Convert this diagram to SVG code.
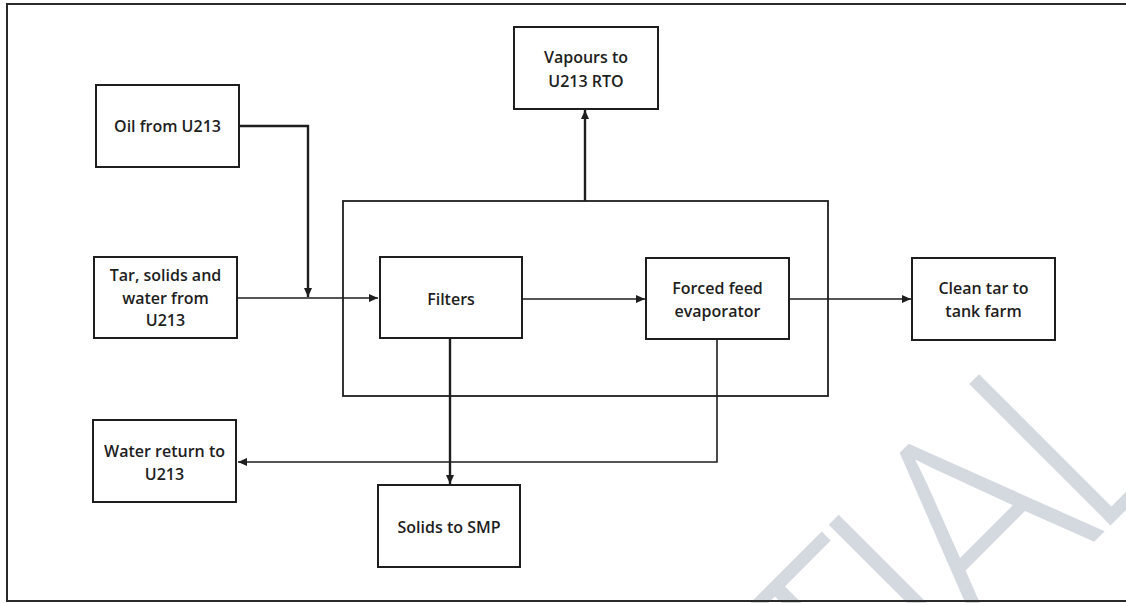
<svg xmlns="http://www.w3.org/2000/svg" width="1126" height="603" viewBox="0 0 1126 603">
  <defs>
    <marker id="arrow" markerUnits="userSpaceOnUse" markerWidth="10" markerHeight="8" refX="9" refY="4" orient="auto">
      <path d="M0,0 L9,4 L0,8 z" fill="#1e1e1e"/>
    </marker>
  </defs>
  <style>
    .box { fill: #ffffff; stroke: #1e1e1e; stroke-width: 2; }
    .frame { fill: none; stroke: #2a2a2a; stroke-width: 2; }
    .conn { fill: none; stroke: #1e1e1e; stroke-width: 1.6; }
    .heavy { stroke-width: 2.4; }
    .lbl { font-family: "Open Sans", "Liberation Sans", sans-serif; font-size: 16px; font-weight: 600; fill: #1e1e1e; text-anchor: middle; }
    .wm { font-family: "Open Sans", "Liberation Sans", sans-serif; font-size: 280px; font-weight: 300; fill: #d4d9e0; text-anchor: end; letter-spacing: -20px; }
  </style>
  <rect width="1126" height="603" fill="#ffffff"/>
  <text class="wm" transform="translate(1178,458) rotate(-45)">CONFIDENTIAL</text>
  <path class="frame" d="M1126,4 H7 V601 H1126"/>

  <g id="evaporation-unit">
    <rect class="frame" x="343" y="201" width="485" height="195" style="stroke:#1e1e1e;stroke-width:1.8"/>
  </g>

  <g id="connectors">
    <path class="conn heavy" d="M239,126 H308 V297" marker-end="url(#arrow)"/>
    <path class="conn" d="M237,298 H378" marker-end="url(#arrow)"/>
    <path class="conn" d="M522,299 H645" marker-end="url(#arrow)"/>
    <path class="conn" d="M789,299 H911" marker-end="url(#arrow)"/>
    <path class="conn heavy" d="M585,201 V110" marker-end="url(#arrow)"/>
    <path class="conn heavy" d="M450,338 V484" marker-end="url(#arrow)"/>
    <path class="conn" d="M717,339 V462 H238" marker-end="url(#arrow)"/>
  </g>

  <g id="oil-from-u213">
    <rect class="box" x="96" y="85" width="143" height="82"/>
    <text class="lbl" x="167.5" y="132">Oil from U213</text>
  </g>
  <g id="tar-solids-water">
    <rect class="box" x="94" y="257" width="143" height="81"/>
    <text class="lbl" x="165.5" y="281">Tar, solids and</text>
    <text class="lbl" x="165.5" y="303.5">water from</text>
    <text class="lbl" x="165.5" y="326">U213</text>
  </g>
  <g id="vapours-to-rto">
    <rect class="box" x="514" y="27" width="144" height="82"/>
    <text class="lbl" x="586" y="63">Vapours to</text>
    <text class="lbl" x="586" y="87">U213 RTO</text>
  </g>
  <g id="filters">
    <rect class="box" x="380" y="257" width="142" height="81"/>
    <text class="lbl" x="451" y="305">Filters</text>
  </g>
  <g id="forced-feed-evaporator">
    <rect class="box" x="646" y="258" width="143" height="81"/>
    <text class="lbl" x="717.5" y="294">Forced feed</text>
    <text class="lbl" x="717.5" y="317">evaporator</text>
  </g>
  <g id="clean-tar">
    <rect class="box" x="912" y="258" width="143" height="82"/>
    <text class="lbl" x="983.5" y="294">Clean tar to</text>
    <text class="lbl" x="983.5" y="317">tank farm</text>
  </g>
  <g id="water-return">
    <rect class="box" x="93" y="420" width="143" height="82"/>
    <text class="lbl" x="164.5" y="457">Water return to</text>
    <text class="lbl" x="164.5" y="480">U213</text>
  </g>
  <g id="solids-to-smp">
    <rect class="box" x="378" y="485" width="142" height="82"/>
    <text class="lbl" x="449" y="533">Solids to SMP</text>
  </g>
</svg>
